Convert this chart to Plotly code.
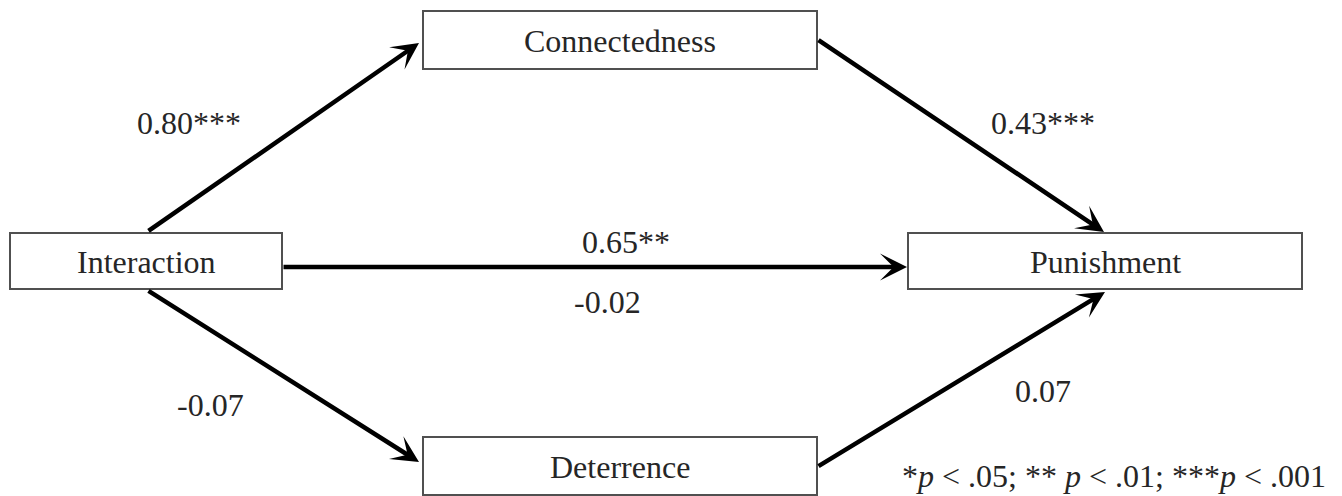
import plotly.graph_objects as go

# ---- data ----
node_names = ["Interaction", "Connectedness", "Deterrence", "Punishment"]
path_from = ["Interaction", "Connectedness", "Interaction", "Interaction", "Deterrence"]
path_to = ["Connectedness", "Punishment", "Punishment", "Deterrence", "Punishment"]
path_labels = ["0.80***", "0.43***", "0.65**", "-0.07", "0.07"]
extra_labels = ["-0.02"]
footnote = "*<i>p</i> < .05; ** <i>p</i> < .01; ***<i>p</i> < .001"

# ---- layout (window pixel coordinates) ----
W, H = 1342, 496
PAGE_MARGIN = 8  # default body margin of the html page
box_geom = {
    "Interaction": (10, 233, 282, 289),
    "Connectedness": (423, 11, 817, 69),
    "Deterrence": (423, 437, 817, 495),
    "Punishment": (908, 233, 1302, 289),
}
arrow_geom = [  # (tail x, tail y, head x, head y)
    (147, 232, 419, 43),
    (817, 39, 1104, 232),
    (282, 267, 907, 267),
    (147, 290, 419, 462),
    (817, 467, 1105, 292),
]
label_pos = [(189, 123), (1043, 123), (626, 242), (210, 405), (1043, 391)]
extra_pos = [(607, 302)]
foot_pos = (1114, 476)

FONT = dict(family="Liberation Serif, Times New Roman, serif", size=32, color="#262626")

fig = go.Figure()
fig.add_trace(go.Scatter(x=[PAGE_MARGIN, W], y=[PAGE_MARGIN, H], mode="markers",
                         marker=dict(opacity=0), hoverinfo="skip", showlegend=False))

for name in node_names:
    x0, y0, x1, y1 = box_geom[name]
    fig.add_shape(type="rect", x0=x0, y0=y0, x1=x1, y1=y1, xref="x", yref="y",
                  line=dict(color="#505050", width=2), fillcolor="white", layer="below")
    fig.add_annotation(x=(x0 + x1) / 2, y=(y0 + y1) / 2 + 1, text=name, showarrow=False,
                       font=FONT, xanchor="center", yanchor="middle")

for (tx, ty, hx, hy) in arrow_geom:
    fig.add_annotation(x=hx, y=hy, ax=tx, ay=ty, xref="x", yref="y", axref="x", ayref="y",
                       text="", showarrow=True, arrowhead=3, arrowwidth=4.5, arrowsize=1,
                       arrowcolor="black", standoff=0, startstandoff=0)

for lab, (lx, ly) in zip(path_labels, label_pos):
    fig.add_annotation(x=lx, y=ly, text=lab, showarrow=False, font=FONT,
                       xanchor="center", yanchor="middle")
for lab, (lx, ly) in zip(extra_labels, extra_pos):
    fig.add_annotation(x=lx, y=ly, text=lab, showarrow=False, font=FONT,
                       xanchor="center", yanchor="middle")

fig.add_annotation(x=foot_pos[0], y=foot_pos[1], text=footnote, showarrow=False, font=FONT,
                   xanchor="center", yanchor="middle")

fig.update_layout(
    width=W - PAGE_MARGIN, height=H - PAGE_MARGIN, margin=dict(l=0, r=0, t=0, b=0),
    paper_bgcolor="white", plot_bgcolor="white", showlegend=False,
    xaxis=dict(range=[PAGE_MARGIN, W], visible=False, fixedrange=True),
    yaxis=dict(range=[H, PAGE_MARGIN], visible=False, fixedrange=True),
)
fig.write_html("out.html")
